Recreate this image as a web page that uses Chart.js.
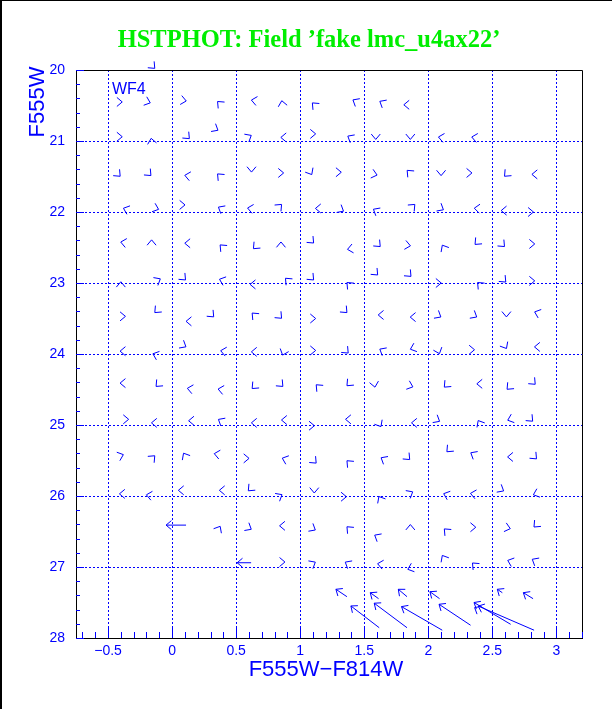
<!DOCTYPE html>
<html>
<head>
<meta charset="utf-8">
<script src="https://cdn.jsdelivr.net/npm/chart.js@4.4.1/dist/chart.umd.min.js"></script>
<style>
  html, body { margin: 0; padding: 0; background: #fff; }
  canvas { display: block; }
</style>
</head>
<body>
<canvas id="grafico" width="612" height="709"></canvas>
<script>
// eixos
const ticksX = [-0.5, 0, 0.5, 1, 1.5, 2, 2.5, 3];
const ticksY = [20, 21, 22, 23, 24, 25, 26, 27, 28];

// deslocamentos pequenos: posicao (F555W-F814W, F555W) e direcao em graus
const pequenoX = [
  -0.41, -0.19, 0.09, 0.37, 0.64, 0.86, 1.11, 1.43, 1.64, 1.83, -0.15,
  -0.41, -0.16, 0.12, 0.34, 0.60, 0.87, 1.10, 1.39, 1.59, 1.86, 2.10, 2.36,
  -0.42, -0.18, 0.12, 0.37, 0.62, 0.85, 1.08, 1.30, 1.58, 1.85, 2.10, 2.32, 2.61, 2.83,
  -0.36, -0.125, 0.08, 0.38, 0.61, 0.84, 1.14, 1.32, 1.59, 1.88, 2.10, 2.38, 2.59, 2.80,
  -0.38, -0.16, 0.12, 0.39, 0.65, 0.85, 1.09, 1.39, 1.61, 1.84, 2.12, 2.38, 2.58, 2.81,
  -0.40, -0.11, 0.09, 0.39, 0.63, 0.90, 1.09, 1.38, 1.59, 1.85, 2.08, 2.40, 2.59, 2.81,
  -0.385, -0.12, 0.13, 0.31, 0.64, 0.84, 1.10, 1.35, 1.63, 1.88, 2.08, 2.36, 2.61, 2.85,
  -0.385, -0.13, 0.09, 0.40, 0.64, 0.87, 1.10, 1.36, 1.64, 1.88, 2.08, 2.34, 2.60, 2.85,
  -0.385, -0.11, 0.14, 0.38, 0.64, 0.85, 1.14, 1.38, 1.58, 1.86, 2.14, 2.40, 2.63, 2.82,
  -0.36, -0.14, 0.15, 0.38, 0.64, 0.875, 1.09, 1.375, 1.62, 1.89, 2.07, 2.40, 2.64, 2.80,
  -0.40, -0.15, 0.10, 0.35, 0.58, 0.88, 1.11, 1.38, 1.65, 1.84, 2.16, 2.35, 2.64, 2.83,
  -0.39, -0.18, 0.07, 0.39, 0.61, 0.84, 1.11, 1.34, 1.625, 1.86, 2.14, 2.35, 2.57, 2.84,
  0.365, 0.60, 0.86, 1.10, 1.38, 1.60, 1.86, 2.14, 2.35, 2.62, 2.84,
  0.86, 1.10, 1.37, 1.625, 1.86, 2.12, 2.36, 2.64, 2.83, 2.38,
];
const pequenoY = [
  20.45, 20.45, 20.43, 20.47, 20.43, 20.47, 20.49, 20.44, 20.46, 20.49, 19.95,
  20.94, 21.0, 20.94, 20.83, 20.94, 20.95, 20.90, 20.95, 20.94, 20.94, 20.95, 20.95,
  21.47, 21.46, 21.49, 21.49, 21.40, 21.45, 21.44, 21.44, 21.47, 21.44, 21.45, 21.45, 21.47, 21.47,
  21.96, 21.95, 21.90, 21.95, 21.95, 21.92, 21.95, 21.97, 21.98, 21.92, 21.95, 21.95, 21.98, 22.0,
  22.43, 22.43, 22.44, 22.49, 22.49, 22.46, 22.41, 22.52, 22.46, 22.47, 22.50, 22.43, 22.46, 22.45,
  23.02, 22.96, 22.93, 22.96, 23.02, 22.96, 22.93, 23.02, 22.86, 22.88, 23.0, 23.02, 22.96, 22.97,
  23.47, 23.39, 23.54, 23.45, 23.45, 23.47, 23.50, 23.39, 23.45, 23.48, 23.46, 23.46, 23.44, 23.42,
  23.96, 24.01, 23.88, 23.96, 23.97, 23.98, 23.95, 23.96, 23.95, 23.92, 23.96, 23.94, 23.89, 23.90,
  24.41, 24.43, 24.49, 24.50, 24.46, 24.43, 24.46, 24.42, 24.43, 24.45, 24.44, 24.42, 24.47, 24.40,
  24.92, 24.97, 24.94, 24.94, 24.97, 24.93, 25.01, 24.92, 24.99, 24.97, 24.93, 24.97, 24.92, 24.92,
  25.43, 25.46, 25.43, 25.41, 25.47, 25.48, 25.51, 25.53, 25.48, 25.46, 25.35, 25.41, 25.45, 25.45,
  25.97, 25.99, 25.92, 25.92, 25.90, 26.0, 25.92, 26.01, 26.04, 25.96, 25.98, 25.97, 25.91, 25.97,
  26.46, 26.45, 26.42, 26.46, 26.46, 26.57, 26.44, 26.49, 26.44, 26.45, 26.41,
  26.93, 26.95, 26.95, 26.96, 27.02, 26.87, 26.97, 26.92, 26.91, 27.59,
];
const pequenoDir = [
  0, 340, 350, 135, 170, 100, 135, 150, 150, 180, 315,
  0, 100, 315, 330, 30, 180, 0, 150, 270, 270, 170, 170,
  315, 315, 170, 135, 270, 0, 300, 0, 345, 135, 270, 0, 225, 180,
  160, 340, 0, 150, 170, 45, 180, 330, 150, 45, 330, 175, 180, 0,
  170, 90, 180, 135, 225, 90, 315, 190, 315, 350, 120, 225, 315, 0,
  90, 30, 315, 160, 180, 135, 315, 135, 315, 315, 0, 135, 315, 0,
  0, 225, 180, 315, 135, 315, 0, 315, 180, 180, 330, 330, 270, 160,
  180, 160, 330, 170, 180, 250, 0, 315, 150, 200, 290, 0, 300, 180,
  180, 225, 170, 170, 225, 315, 135, 225, 280, 340, 225, 180, 225, 315,
  0, 180, 180, 150, 180, 180, 0, 180, 300, 180, 330, 120, 200, 315,
  20, 45, 120, 170, 0, 160, 315, 135, 150, 315, 225, 150, 180, 315,
  180, 170, 180, 180, 225, 30, 270, 0, 120, 30, 160, 170, 330, 200,
  60, 330, 180, 330, 135, 150, 90, 135, 0, 345, 225,
  0, 30, 150, 170, 200, 120, 135, 160, 150, 150,
];

// deslocamentos grandes: origem e destino
const grandeX0 = [0.109, 0.617, 1.365, 1.612, 1.834, 1.617, 1.834, 2.109, 2.088, 2.33, 2.643, 2.826, 2.578, 2.818];
const grandeY0 = [26.41, 26.94, 27.418, 27.446, 27.418, 27.855, 27.855, 27.89, 27.446, 27.82, 27.807, 27.89, 27.362, 27.446];
const grandeX1 = [-0.047, 0.508, 1.279, 1.547, 1.766, 1.396, 1.578, 1.791, 2.013, 2.084, 2.357, 2.39, 2.539, 2.742];
const grandeY1 = [26.41, 26.94, 27.314, 27.362, 27.314, 27.549, 27.51, 27.558, 27.348, 27.525, 27.5, 27.55, 27.314, 27.362];

const AZUL = "#0000ff";
const TAM_PONTA = 7;
const ABERTURA = (40 * Math.PI) / 180;

function desenhaPonta(ctx, px, py, ang) {
  ctx.beginPath();
  for (const s of [-1, 1]) {
    const b = ang + Math.PI + s * ABERTURA;
    ctx.moveTo(px, py);
    ctx.lineTo(px + TAM_PONTA * Math.cos(b), py - TAM_PONTA * Math.sin(b));
  }
  ctx.stroke();
}

const setas = {
  id: "setas",
  beforeDraw(chart) {
    const ctx = chart.ctx;
    ctx.save();
    ctx.fillStyle = "#fff";
    ctx.fillRect(0, 0, chart.width, chart.height);
    ctx.restore();
  },
  afterDatasetsDraw(chart) {
    const ctx = chart.ctx;
    ctx.save();
    ctx.strokeStyle = AZUL;
    ctx.lineWidth = 1;

    // pontas isoladas, centradas no ponto
    const pequenos = chart.getDatasetMeta(0).data;
    const meio = (TAM_PONTA * Math.cos(ABERTURA)) / 2;
    pequenos.forEach((p, i) => {
      const a = (pequenoDir[i] * Math.PI) / 180;
      desenhaPonta(ctx, p.x + meio * Math.cos(a), p.y - meio * Math.sin(a), a);
    });

    // setas com haste
    const origens = chart.getDatasetMeta(1).data;
    const destinos = chart.getDatasetMeta(2).data;
    origens.forEach((o, i) => {
      const d = destinos[i];
      ctx.beginPath();
      ctx.moveTo(o.x, o.y);
      ctx.lineTo(d.x, d.y);
      ctx.stroke();
      desenhaPonta(ctx, d.x, d.y, Math.atan2(o.y - d.y, d.x - o.x));
    });
    ctx.restore();
  },
  afterDraw(chart) {
    const { ctx, chartArea: area } = chart;
    const sx = chart.scales.x;
    const sy = chart.scales.y;
    ctx.save();

    // moldura superior e direita
    ctx.strokeStyle = "#000";
    ctx.lineWidth = 1;
    ctx.beginPath();
    ctx.moveTo(area.left, area.top + 0.5);
    ctx.lineTo(area.right + 0.5, area.top + 0.5);
    ctx.lineTo(area.right + 0.5, area.bottom);
    ctx.stroke();

    // marcas dos eixos
    ctx.strokeStyle = AZUL;
    ctx.beginPath();
    for (let k = -7; k <= 32; k++) {
      const v = k / 10;
      const px = Math.round(sx.getPixelForValue(v)) + 0.5;
      const tam = k % 5 === 0 ? 10 : 6;
      ctx.moveTo(px, area.bottom);
      ctx.lineTo(px, area.bottom - tam);
    }
    for (let k = 0; k <= 40; k++) {
      const v = 20 + k / 5;
      const py = Math.round(sy.getPixelForValue(v)) + 0.5;
      const tam = k % 5 === 0 ? 8 : 4;
      ctx.moveTo(area.left, py);
      ctx.lineTo(area.left + tam, py);
    }
    ctx.stroke();

    // textos
    ctx.fillStyle = AZUL;
    ctx.font = "16px 'Liberation Sans'";
    ctx.textAlign = "left";
    ctx.fillText("WF4", sx.getPixelForValue(-0.469), sy.getPixelForValue(20.34));

    ctx.font = "22px 'Liberation Sans'";
    ctx.textAlign = "center";
    ctx.fillText("F555W\u2212F814W", (area.left + area.right) / 2 - 3, 676);

    ctx.save();
    ctx.translate(44, 102);
    ctx.rotate(-Math.PI / 2);
    ctx.fillText("F555W", 0, 0);
    ctx.restore();

    ctx.fillStyle = "#00ee00";
    ctx.font = "bold 24.5px 'Liberation Serif'";
    ctx.fillText("HSTPHOT: Field \u2019fake lmc_u4ax22\u2019", 309, 47);

    // borda da janela
    ctx.fillStyle = "#000";
    ctx.fillRect(0, 0, 2, chart.height);
    ctx.fillRect(0, 0, chart.width, 1);
    ctx.restore();
  },
};

const ctxGrafico = document.querySelector("#grafico");

new Chart(ctxGrafico, {
  type: "scatter",

  data: {
    datasets: [
      {
        label: "pequenos",
        data: pequenoX.map((x, i) => ({ x, y: pequenoY[i] })),
        pointRadius: 0,
      },
      {
        label: "origens",
        data: grandeX0.map((x, i) => ({ x, y: grandeY0[i] })),
        pointRadius: 0,
      },
      {
        label: "destinos",
        data: grandeX1.map((x, i) => ({ x, y: grandeY1[i] })),
        pointRadius: 0,
      },
    ],
  },

  options: {
    responsive: false,
    animation: false,
    events: [],
    layout: { padding: { top: 70, right: 30, left: 0, bottom: 0 } },
    plugins: { legend: { display: false }, tooltip: { enabled: false } },
    scales: {
      x: {
        type: "linear",
        min: -0.75,
        max: 3.2,
        afterBuildTicks: (s) => {
          s.ticks = ticksX.map((v) => ({ value: v }));
        },
        afterFit: (s) => {
          s.height = 71;
        },
        grid: { color: AZUL, lineWidth: 1, drawTicks: false },
        border: { display: true, color: "#000", width: 1, dash: [2, 2] },
        ticks: {
          color: AZUL,
          padding: 5,
          font: { family: "Liberation Sans", size: 14 },
          callback: (v) => (v < 0 ? "\u2212" + Math.abs(v) : String(v)),
        },
      },
      y: {
        type: "linear",
        min: 20,
        max: 28,
        reverse: true,
        afterBuildTicks: (s) => {
          s.ticks = ticksY.map((v) => ({ value: v }));
        },
        afterFit: (s) => {
          s.width = 76;
        },
        grid: { color: AZUL, lineWidth: 1, drawTicks: false },
        border: { display: true, color: "#000", width: 1, dash: [2, 2] },
        ticks: {
          color: AZUL,
          padding: 11,
          font: { family: "Liberation Sans", size: 14 },
          callback: (v) => String(v),
        },
      },
    },
  },
  plugins: [setas],
});
</script>
</body>
</html>
